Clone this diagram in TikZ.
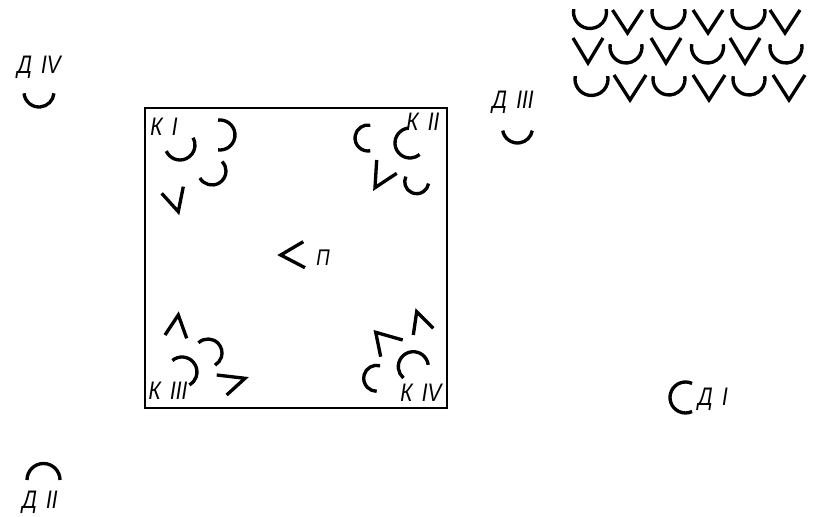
\documentclass[tikz,border=0pt]{standalone}
\usepackage{fontspec}
\setmainfont{Liberation Sans}
\newcommand{\myarc}[6][]{% [style] cx cy r start end  (angles y-up)
  \draw[mark stroke,#1] ({#2+#4*cos(#5)},{#3-#4*sin(#5)}) arc[start angle={-(#5)}, end angle={-(#6)}, radius=#4];}
\newcommand{\cupat}[3]{\myarc{#1}{#2}{#3}{170}{370}}
\newcommand{\myvmark}[4]{\draw[mark stroke] ({#1-#3},#2) -- (#1,{#2+#4}) -- ({#1+#3},#2);}
\begin{document}
\begin{tikzpicture}[x=0.75pt,y=-0.75pt,
  mark stroke/.style={line width=2.5pt, line cap=butt, line join=miter},
  frame/.style={line width=1.7pt},
  lbl/.style={font=\fontsize{19}{19}\selectfont\itshape, inner sep=0pt, xscale=0.82, transform shape}]
\useasboundingbox (0,0) rectangle (818,517);
\fill[white] (0,0) rectangle (818,517);

% square
\draw[frame] (145,108) rectangle (447,408);

% K I
\node[lbl] (k1) at (164,127) {К\, I};
\myarc{180}{145}{15}{204}{389}
\myarc{220}{135}{15}{97}{-97}
\myarc{212}{171}{14}{210}{403}
\draw[mark stroke] (161.7,193.3) -- (178.3,211.7) -- (183.3,186.7);

% K II
\node[lbl] (k2) at (423,122) {К\, II};
\myarc{368}{138}{13}{80}{280}
\myarc{410}{143}{15}{95}{310}
\draw[mark stroke] (376.7,160) -- (375,187.7) -- (396.7,173.3);
\myarc{416.7}{181.7}{12}{155}{351}

% centre
\draw[mark stroke] (303.3,241.7) -- (280.7,255) -- (305,267.7);
\node[lbl, font=\fontsize{17}{17}\selectfont\itshape] (p) at (323,258) {П};

% K III
\node[lbl] (k3) at (168,391) {К\, III};
\draw[mark stroke] (165,335) -- (178.3,315) -- (186.7,338.3);
\myarc{208}{353}{14}{133}{-60}
\myarc{182}{372}{15}{130}{-60}
\draw[mark stroke] (216.7,375) -- (245,378.3) -- (226.7,395);

% K IV
\node[lbl] (k4) at (421,393) {К\, IV};
\draw[mark stroke] (413.3,335) -- (416.7,311.7) -- (433.3,328.3);
\draw[mark stroke] (402.7,340) -- (375.7,332.3) -- (380.7,356.7);
\myarc{376.7}{378.3}{13}{75}{270}
\myarc{413.3}{366.7}{15}{7}{229}

% outside marks
\node[lbl] (d4) at (39,67) {Д\, IV};
\myarc{39}{92}{15}{185}{355}
\node[lbl] (d3) at (513,102) {Д\, III};
\myarc{517.5}{128}{15}{190}{350}
\myarc{685.5}{397.5}{15.5}{65}{295}
\node[lbl] (d1) at (713,399) {Д\, I};
\myarc{43.5}{480}{16.5}{0}{180}
\node[lbl] (d2) at (40,502) {Д\, II};

% grid top right
% row 1
\cupat{590}{12}{16.5}
\myvmark{627.5}{10}{15}{23}
\cupat{668.5}{12}{16.5}
\myvmark{708}{10}{15}{23}
\cupat{748.5}{12}{16.5}
\myvmark{785}{10}{15}{23}
% row 2
\myvmark{588}{38}{15}{25}
\cupat{626}{47}{16}
\myvmark{666}{38}{15}{25}
\cupat{707.5}{47}{16}
\myvmark{745}{38}{15}{25}
\cupat{786}{47}{16}
% row 3
\cupat{591.5}{79}{16.5}
\myvmark{630}{75}{16}{25}
\cupat{669}{79}{16}
\myvmark{709}{75}{16}{25}
\cupat{749}{79}{16}
\myvmark{789}{75}{16}{25}
\end{tikzpicture}
\end{document}
